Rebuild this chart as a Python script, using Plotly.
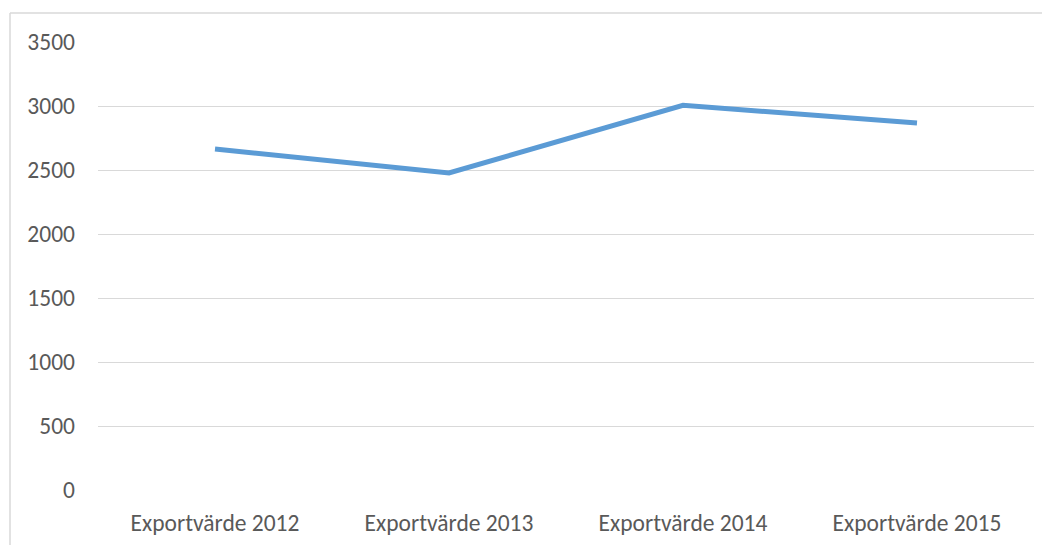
import plotly.graph_objects as go

categories = ["Exportvärde 2012", "Exportvärde 2013", "Exportvärde 2014", "Exportvärde 2015"]
values = [2664, 2477, 3005, 2867]
y_ticks = [0, 500, 1000, 1500, 2000, 2500, 3000, 3500]

# page offset of 8px (body margin) compensated in margins
L, T, R_EDGE, B_EDGE = 90, 34, 1026, 482
W, H = 1050, 545
PW, PH = R_EDGE - L, B_EDGE - T

fig = go.Figure()
fig.add_trace(go.Scatter(
    x=categories, y=values, mode="lines",
    line=dict(color="#5B9BD5", width=5),
    hoverinfo="x+y",
))

font = dict(family="Carlito, Lato, Liberation Sans Narrow, sans-serif", size=23.5, color="#595959")

def px(xp):
    return (xp - L) / PW

def py(yp):
    return (B_EDGE - yp) / PH

fig.update_layout(
    width=W, height=H,
    margin=dict(l=L, r=W - R_EDGE, t=T, b=H - B_EDGE),
    paper_bgcolor="white", plot_bgcolor="white",
    showlegend=False,
    font=font,
    xaxis=dict(
        type="category", range=[-0.5, 3.5],
        showgrid=False, zeroline=False, showline=False,
        ticks="", ticklabelstandoff=16, tickfont=font,
    ),
    yaxis=dict(
        range=[0, 3500], tickvals=y_ticks,
        showgrid=True, gridcolor="#D9D9D9", gridwidth=1.3,
        zeroline=False, showline=False, ticks="",
        ticklabelstandoff=22, tickfont=font,
    ),
    shapes=[
        dict(type="line", xref="paper", yref="paper",
             x0=px(2), x1=px(W), y0=py(5), y1=py(5),
             line=dict(color="#D9D9D9", width=1.5)),
        dict(type="line", xref="paper", yref="paper",
             x0=px(2), x1=px(2), y0=py(5), y1=py(H),
             line=dict(color="#D9D9D9", width=1.5)),
    ],
)

fig.write_html("out.html")
